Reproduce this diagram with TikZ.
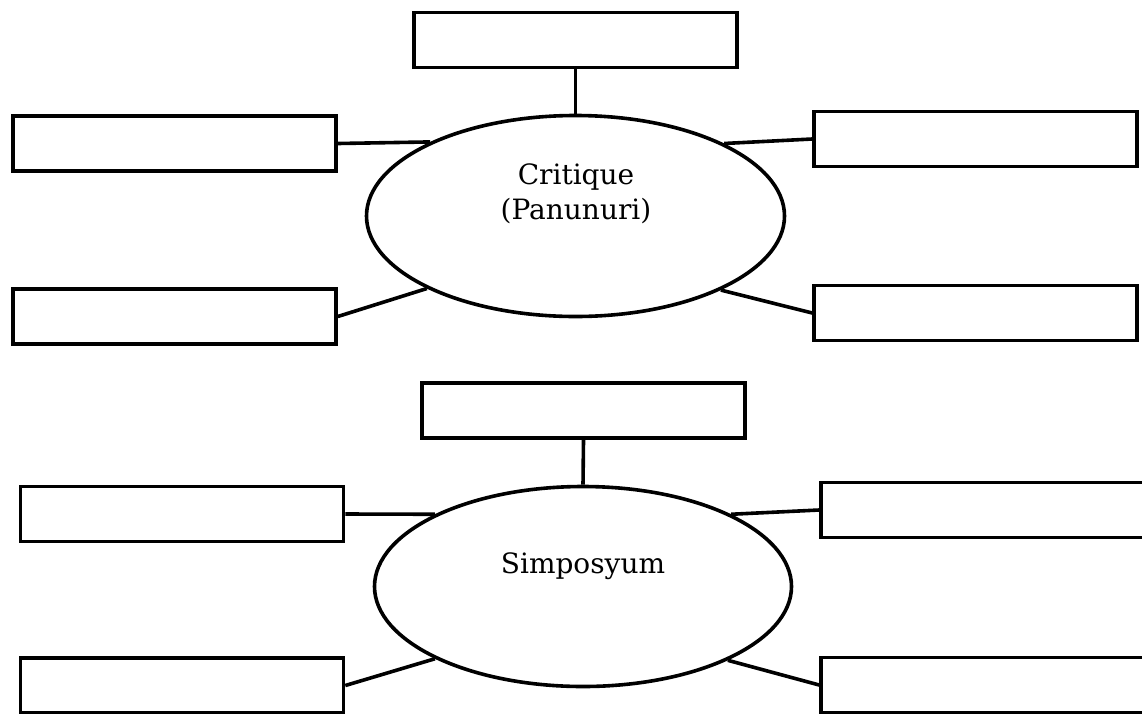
\documentclass[tikz,border=0pt]{standalone}
\usepackage{fontspec}
\setmainfont{DejaVu Serif}
\usetikzlibrary{shapes.geometric}
\tikzset{
  blank/.style={draw=black, line width=3.6pt, rectangle, inner sep=0pt,
    minimum width=323pt, minimum height=55pt},
  topic/.style={draw=black, line width=3.6pt, ellipse, inner sep=0pt},
  label/.style={font=\fontsize{28}{35}\selectfont, align=center, inner sep=0pt},
  link/.style={draw=black, line width=3.6pt}
}
\begin{document}
\begin{tikzpicture}[x=1pt,y=-1pt]
\useasboundingbox (0,0) rectangle (1142,713);
\clip (0,0) rectangle (1142,713);
\fill[white] (0,0) rectangle (1142,713);

% ---- upper group ----
\node[topic, minimum width=418pt, minimum height=201pt] (E1) at (575.5,216) {};
\node[label] (C1) at (576,193.5) {Critique\\(Panunuri)};
\node[blank] (T1) at (575.5,40) {};
\node[blank] (L1a) at (174.5,143.5) {};
\node[blank] (L1b) at (174.5,316.5) {};
\node[blank] (R1a) at (975.5,139) {};
\node[blank] (R1b) at (975.5,313) {};
\draw[link] (T1.south) -- (E1.north);
\draw[link] (L1a.east) -- (E1.153.8);
\draw[link] (L1b.east) -- (E1.206.2);
\draw[link] (R1a.west) -- (E1.26.3);
\draw[link] (R1b.west) -- (E1.333.8);

% ---- lower group ----
\node[topic, minimum width=417pt, minimum height=200pt] (E2) at (583,586.5) {};
\node[label, anchor=base] (C2) at (583,573) {Simposyum};
\node[blank] (T2) at (583.5,410.5) {};
\node[blank] (L2a) at (182,514) {};
\node[blank] (L2b) at (182,685.5) {};
\node[blank] (R2a) at (982.5,510) {};
\node[blank] (R2b) at (982.5,685) {};
\draw[link] (T2.south) -- (E2.north);
\draw[link] (L2a.east) -- (E2.154.2);
\draw[link] (L2b.east) -- (E2.206.1);
\draw[link] (R2a.west) -- (E2.26);
\draw[link] (R2b.west) -- (E2.333.9);
\end{tikzpicture}
\end{document}
